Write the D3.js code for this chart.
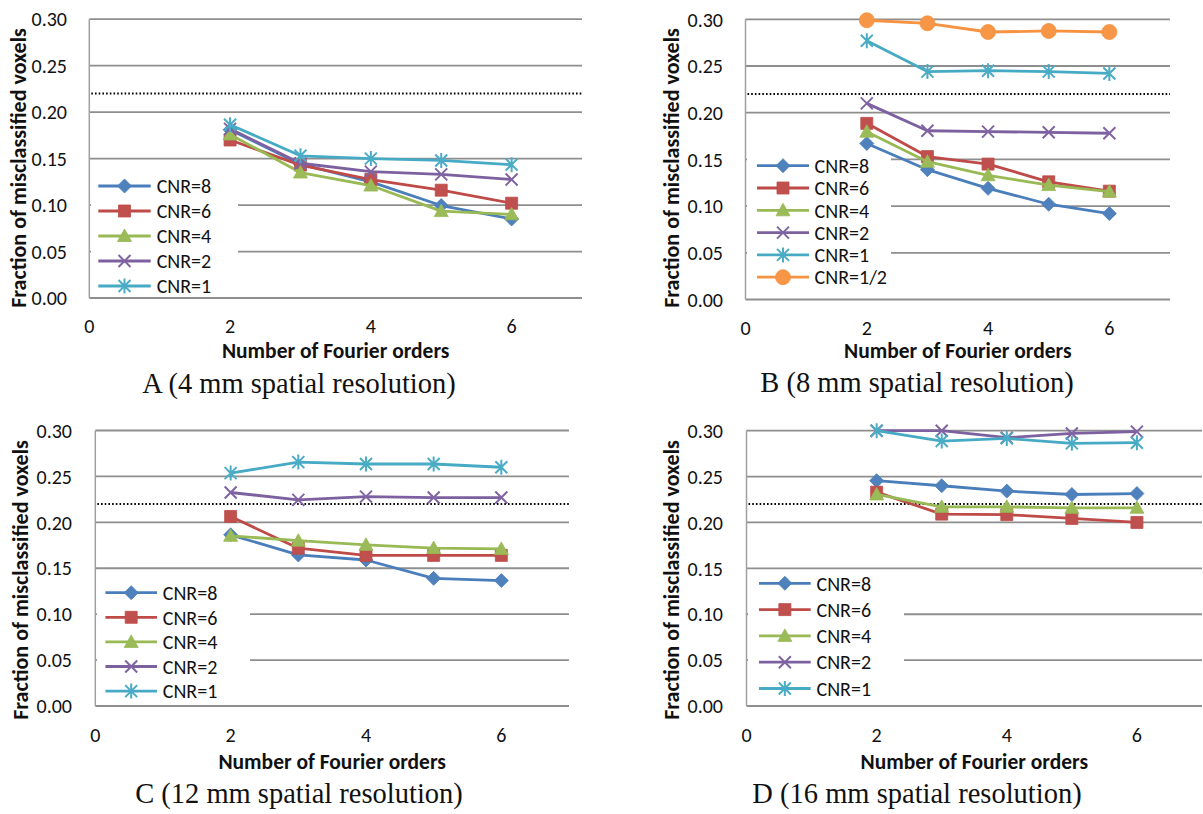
<!DOCTYPE html>
<html>
<head>
<meta charset="utf-8">
<script src="https://cdn.jsdelivr.net/npm/d3@7"></script>
<style>
  html, body { margin: 0; padding: 0; background: #ffffff; }
  svg { display: block; }
</style>
</head>
<body>
<svg id="chart" width="1203" height="814"></svg>
<script>
// ---------------- DATA ----------------
const orders = [2, 3, 4, 5, 6];
const xTickValues = [0, 2, 4, 6];
const yTickValues = [0.00, 0.05, 0.10, 0.15, 0.20, 0.25, 0.30];
const thresholdValue = 0.22;
const seriesNames = ["CNR=8", "CNR=6", "CNR=4", "CNR=2", "CNR=1", "CNR=1/2"];
const captions = ["A (4 mm spatial resolution)", "B (8 mm spatial resolution)",
                  "C (12 mm spatial resolution)", "D (16 mm spatial resolution)"];
const xTitle = "Number of Fourier orders";
const yTitle = "Fraction of misclassified voxels";

// Panel A (4 mm)
const a_cnr8 = [0.181, 0.144, 0.125, 0.0995, 0.085];
const a_cnr6 = [0.170, 0.143, 0.1275, 0.116, 0.102];
const a_cnr4 = [0.176, 0.135, 0.121, 0.0935, 0.090];
const a_cnr2 = [0.182, 0.145, 0.136, 0.133, 0.1275];
const a_cnr1 = [0.1865, 0.153, 0.150, 0.148, 0.1435];

// Panel B (8 mm)
const b_cnr8 = [0.167, 0.139, 0.119, 0.102, 0.092];
const b_cnr6 = [0.1886, 0.153, 0.145, 0.126, 0.116];
const b_cnr4 = [0.1797, 0.1475, 0.133, 0.1225, 0.1155];
const b_cnr2 = [0.210, 0.1807, 0.1797, 0.179, 0.178];
const b_cnr1 = [0.277, 0.244, 0.245, 0.244, 0.242];
const b_cnrHalf = [0.299, 0.2957, 0.2864, 0.2875, 0.2864];

// Panel C (12 mm)
const c_cnr8 = [0.1864, 0.1645, 0.159, 0.139, 0.1366];
const c_cnr6 = [0.2064, 0.1718, 0.164, 0.164, 0.164];
const c_cnr4 = [0.1853, 0.180, 0.1755, 0.172, 0.171];
const c_cnr2 = [0.2325, 0.2245, 0.228, 0.227, 0.227];
const c_cnr1 = [0.2536, 0.2656, 0.2635, 0.2635, 0.260];

// Panel D (16 mm)
const d_cnr8 = [0.2455, 0.240, 0.2342, 0.2305, 0.2315];
const d_cnr6 = [0.233, 0.2091, 0.2085, 0.2044, 0.200];
const d_cnr4 = [0.2305, 0.217, 0.217, 0.216, 0.216];
const d_cnr2 = [0.300, 0.300, 0.2924, 0.297, 0.299];
const d_cnr1 = [0.300, 0.2887, 0.2916, 0.2862, 0.2869];

// ---------------- STYLE ----------------
const lineColors = ["#4A7EBB", "#BE4B48", "#98B954", "#7D60A0", "#46AAC5", "#F69240"];
const fillColors = ["#4F81BD", "#C0504D", "#9BBB59", "#8064A2", "#4BACC6", "#F79646"];
const markerKinds = ["diamond", "square", "triangle", "x", "star", "circle"];
const sansFont = "Carlito, Lato, 'Open Sans', sans-serif";
const serifFont = "'Liberation Serif', 'DejaVu Serif', serif";
const gridColor = "#8e8e8e";
const tickSize = 20, legendSize = 20, xTitleSize = 21.5, yTitleSize = 22, captionSize = 28.5;

// ---------------- LAYOUT (positions) ----------------
const panels = [
  { series: [a_cnr8, a_cnr6, a_cnr4, a_cnr2, a_cnr1], caption: captions[0],
    left: 89.3, right: 582, top: 19.2, bottom: 298,
    yTickRight: 67, yTitleX: 18, yTitleY: 168, xTickY: 333, xTitleY: 358,
    captionX: 299, captionY: 393,
    legend: { x1: 98.3, x2: 150.7, textX: 156.7, y0: 186, dy: 25, boxL: 91, boxR: 238, boxT: 170, boxB: 296 } },
  { series: [b_cnr8, b_cnr6, b_cnr4, b_cnr2, b_cnr1, b_cnrHalf], caption: captions[1],
    left: 745.5, right: 1170, top: 19.3, bottom: 299.5,
    yTickRight: 723, yTitleX: 671, yTitleY: 168, xTickY: 335, xTitleY: 358,
    captionX: 917, captionY: 392,
    legend: { x1: 757, x2: 809, textX: 814.6, y0: 165.7, dy: 22.3, boxL: 747, boxR: 891, boxT: 152, boxB: 298 } },
  { series: [c_cnr8, c_cnr6, c_cnr4, c_cnr2, c_cnr1], caption: captions[2],
    left: 95.3, right: 569, top: 430.5, bottom: 706,
    yTickRight: 72, yTitleX: 20, yTitleY: 580, xTickY: 741.5, xTitleY: 769,
    captionX: 299, captionY: 803,
    legend: { x1: 105.4, x2: 157, textX: 162.8, y0: 592.7, dy: 24.6, boxL: 97, boxR: 250, boxT: 578, boxB: 704.5 } },
  { series: [d_cnr8, d_cnr6, d_cnr4, d_cnr2, d_cnr1], caption: captions[3],
    left: 746.5, right: 1202, top: 430.7, bottom: 706,
    yTickRight: 723, yTitleX: 671, yTitleY: 580, xTickY: 741.5, xTitleY: 769,
    captionX: 917, captionY: 803,
    legend: { x1: 759, x2: 810.7, textX: 816.5, y0: 583.3, dy: 26.3, boxL: 748, boxR: 904, boxT: 572, boxB: 704.5 } }
];

// ---------------- MARKERS ----------------
function markerPath(kind) {
  switch (kind) {
    case "diamond": return "M0,-7L7,0L0,7L-7,0Z";
    case "square": return "M-6,-6H6V6H-6Z";
    case "triangle": return "M0,-7L7,5.5L-7,5.5Z";
    case "x": return "M-6,-6L6,6M-6,6L6,-6";
    case "star": return "M-6,-6L6,6M-6,6L6,-6M0,-7.5V7.5";
    case "circle": return "M7.5,0A7.5,7.5 0 1,1 -7.5,0A7.5,7.5 0 1,1 7.5,0Z";
  }
}
function drawMarker(g, kind, i, x, y) {
  const open = (kind === "x" || kind === "star");
  g.append("path")
    .attr("d", markerPath(kind))
    .attr("transform", `translate(${x},${y})`)
    .attr("fill", open ? "none" : fillColors[i])
    .attr("stroke", open ? fillColors[i] : lineColors[i])
    .attr("stroke-width", open ? 2 : 0.8);
}

// ---------------- DRAW ----------------
const svg = d3.select("#chart");

panels.forEach(p => {
  const g = svg.append("g");
  const x = d3.scaleLinear().domain([0, 7]).range([p.left, p.right]);
  const y = d3.scaleLinear().domain([0, 0.30]).range([p.bottom, p.top]);

  // gridlines
  g.selectAll("line.grid").data(yTickValues).enter().append("line")
    .attr("x1", x(0)).attr("x2", x(7))
    .attr("y1", d => y(d)).attr("y2", d => y(d))
    .attr("stroke", gridColor).attr("stroke-width", 1.8);

  // left axis line
  g.append("line")
    .attr("x1", x(0)).attr("x2", x(0))
    .attr("y1", y(0)).attr("y2", y(0.30))
    .attr("stroke", "#a0a0a0").attr("stroke-width", 1.5);

  // y tick labels
  g.selectAll("text.ytick").data(yTickValues).enter().append("text")
    .attr("x", p.yTickRight).attr("y", d => y(d))
    .attr("dy", "0.36em")
    .attr("text-anchor", "end")
    .attr("font-family", sansFont).attr("font-size", tickSize).attr("fill", "#111")
    .text(d => d3.format(".2f")(d));

  // x tick labels
  g.selectAll("text.xtick").data(xTickValues).enter().append("text")
    .attr("x", d => x(d)).attr("y", p.xTickY)
    .attr("text-anchor", "middle")
    .attr("font-family", sansFont).attr("font-size", tickSize).attr("fill", "#111")
    .text(d => d);

  // axis titles
  g.append("text")
    .attr("x", (p.left + p.right) / 2).attr("y", p.xTitleY)
    .attr("text-anchor", "middle")
    .attr("font-family", sansFont).attr("font-size", xTitleSize).attr("font-weight", "bold").attr("fill", "#111")
    .text(xTitle);
  g.append("text")
    .attr("transform", `translate(${p.yTitleX},${p.yTitleY}) rotate(-90)`)
    .attr("dy", "0.35em")
    .attr("text-anchor", "middle")
    .attr("font-family", sansFont).attr("font-size", yTitleSize).attr("font-weight", "bold").attr("fill", "#111")
    .text(yTitle);

  // caption
  g.append("text")
    .attr("x", p.captionX).attr("y", p.captionY)
    .attr("text-anchor", "middle")
    .attr("font-family", serifFont).attr("font-size", captionSize).attr("fill", "#111")
    .text(p.caption);

  // legend box (covers gridlines)
  const L = p.legend;
  g.append("rect")
    .attr("x", L.boxL).attr("y", L.boxT)
    .attr("width", L.boxR - L.boxL).attr("height", L.boxB - L.boxT)
    .attr("fill", "#ffffff");

  // threshold dotted line
  g.append("line")
    .attr("x1", x(0) + 2).attr("x2", x(7))
    .attr("y1", y(thresholdValue)).attr("y2", y(thresholdValue))
    .attr("stroke", "#000").attr("stroke-width", 2)
    .attr("stroke-dasharray", "1.6,2.1");

  // series
  const line = d3.line().x((d, j) => x(orders[j])).y(d => y(d));
  p.series.forEach((vals, i) => {
    g.append("path").datum(vals)
      .attr("d", line)
      .attr("fill", "none")
      .attr("stroke", lineColors[i])
      .attr("stroke-width", 2.8)
      .attr("stroke-linejoin", "round");
    vals.forEach((v, j) => drawMarker(g, markerKinds[i], i, x(orders[j]), y(v)));
  });

  // legend entries
  p.series.forEach((vals, i) => {
    const ly = L.y0 + i * L.dy;
    g.append("line")
      .attr("x1", L.x1).attr("x2", L.x2).attr("y1", ly).attr("y2", ly)
      .attr("stroke", lineColors[i]).attr("stroke-width", 2.8);
    drawMarker(g, markerKinds[i], i, (L.x1 + L.x2) / 2, ly);
    g.append("text")
      .attr("x", L.textX).attr("y", ly).attr("dy", "0.36em")
      .attr("font-family", sansFont).attr("font-size", legendSize).attr("fill", "#111")
      .text(seriesNames[i]);
  });
});
</script>
</body>
</html>
